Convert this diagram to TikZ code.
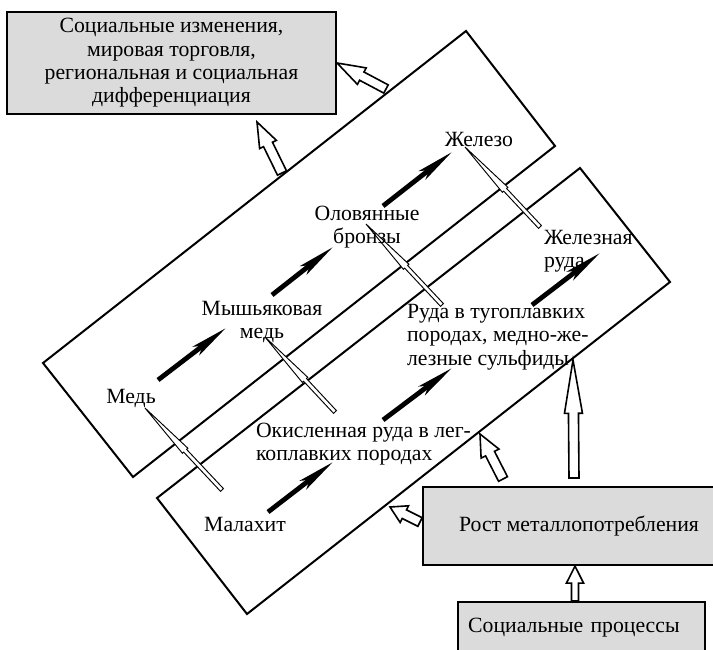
\documentclass[tikz,border=0pt]{standalone}
\usepackage{fontspec}
\setmainfont{Liberation Serif}
\usetikzlibrary{calc,arrows.meta}
\tikzset{
  graybox/.style={draw,line width=1.6pt,fill=black!14,inner sep=0pt},
  hollow/.style={draw,line width=1.2pt,fill=white},
  needle/.style={draw,line width=0.7pt,fill=white},
  blackarr/.style={line width=3.6pt,line cap=butt,-{Stealth[length=28pt,width=8pt,inset=6pt]}},
  txt/.style={inner sep=0pt}
}
\newcommand{\blockarrow}[6][hollow]{%
  \coordinate (hb) at ($(#3)!#6!(#2)$);
  \draw[#1] ($(#2)!#4!90:(#3)$) -- ($(hb)!#4!90:(#3)$) -- ($(hb)!#5!90:(#3)$) -- (#3)
    -- ($(hb)!#5!-90:(#3)$) -- ($(hb)!#4!-90:(#3)$) -- ($(#2)!#4!-90:(#3)$) -- cycle;}
\begin{document}
\begin{tikzpicture}[x=0.75pt,y=-0.75pt,line width=1.5pt,font={\fontsize{16.3pt}{17.5pt}\selectfont},line join=miter]
\useasboundingbox (0,0) rectangle (713,649);
\coordinate (u1) at (43,363);
\coordinate (u2) at (466,31);
\coordinate (u3) at (555,146);
\coordinate (u4) at (133,477);
\coordinate (l1) at (157,498);
\coordinate (l2) at (580,168);
\coordinate (l3) at (670,282);
\coordinate (l4) at (247,614);
\draw (u1)--(u2)--(u3)--(u4)--cycle;
\draw (l1)--(l2)--(l3)--(l4)--cycle;
\coordinate (n1h) at (145,408); \coordinate (n1t) at (222,490);
\coordinate (n2h) at (265,337); \coordinate (n2t) at (335,412);
\coordinate (n3h) at (366,224); \coordinate (n3t) at (442,305);
\coordinate (n4h) at (465,147); \coordinate (n4t) at (540,227);
\foreach \n in {1,2,3,4}
{\blockarrow[needle]{n\n t}{n\n h}{1.5pt}{2.8pt}{44pt}}
\foreach \xa/\ya/\xb/\yb in {158/380/226/328,272/295/333/247,383/206/452/152,268/512/333/462,383/420/452/368,532/305/600/253}
{\draw[blackarr] (\xa,\ya)--(\xb,\yb);}
\node[txt] (copper) at (131,398) {Медь};
\node[txt,align=center] (arscopper) at (262,322) {Мышьяковая\\медь};
\node[txt,align=center] (bronze) at (367,227) {Оловянные\\бронзы};
\node[txt] (iron) at (479,139) {Железо};
\node[txt,anchor=west,align=left] (ironore) at (543,251) {Железная\\руда};
\node[txt,anchor=west,align=left] (refrore) at (406,337) {Руда в тугоплавких\\породах, медно-же-\\лезные сульфиды};
\node[txt,anchor=west,align=left] (oxore) at (255,444) {Окисленная руда в лег-\\коплавких породах};
\node[txt] (malachite) at (245,524) {Малахит};
\node[graybox,minimum width=246.75pt,minimum height=76.5pt,align=center] (change) at (171.5,63)
  {Социальные изменения,\\мировая торговля,\\региональная и социальная\\дифференциация};
\node[graybox,minimum width=234pt,minimum height=58.5pt] (growth) at (579,526) {Рост металлопотребления};
\node[graybox,anchor=north west,minimum width=185.25pt,minimum height=39pt,inner xsep=7.5pt,text width=170pt,align=left] (social) at (457,601) {Социальные процессы};
\coordinate (a1t) at (social.north -| 575,0); \coordinate (a1h) at (growth.south -| 575,0);
\coordinate (a2t) at (574,478); \coordinate (a2h) at (573,360);
\coordinate (a3t) at (503,479); \coordinate (a3h) at (480,434);
\coordinate (a4t) at (420,522); \coordinate (a4h) at (390,507);
\coordinate (a5t) at (282,173); \coordinate (a5h) at (257,122);
\coordinate (a6t) at (386,89); \coordinate (a6h) at (change.east);
\blockarrow{a1t}{a1h}{2.6pt}{6.4pt}{12.75pt}
\blockarrow{a2t}{a2h}{3.75pt}{6.75pt}{40pt}
\blockarrow{a3t}{a3h}{3.75pt}{7.5pt}{16.5pt}
\blockarrow{a4t}{a4h}{3.6pt}{7pt}{12pt}
\blockarrow{a5t}{a5h}{3.75pt}{7pt}{18.75pt}
\blockarrow{a6t}{a6h}{3.5pt}{7pt}{21pt}
\end{tikzpicture}
\end{document}
